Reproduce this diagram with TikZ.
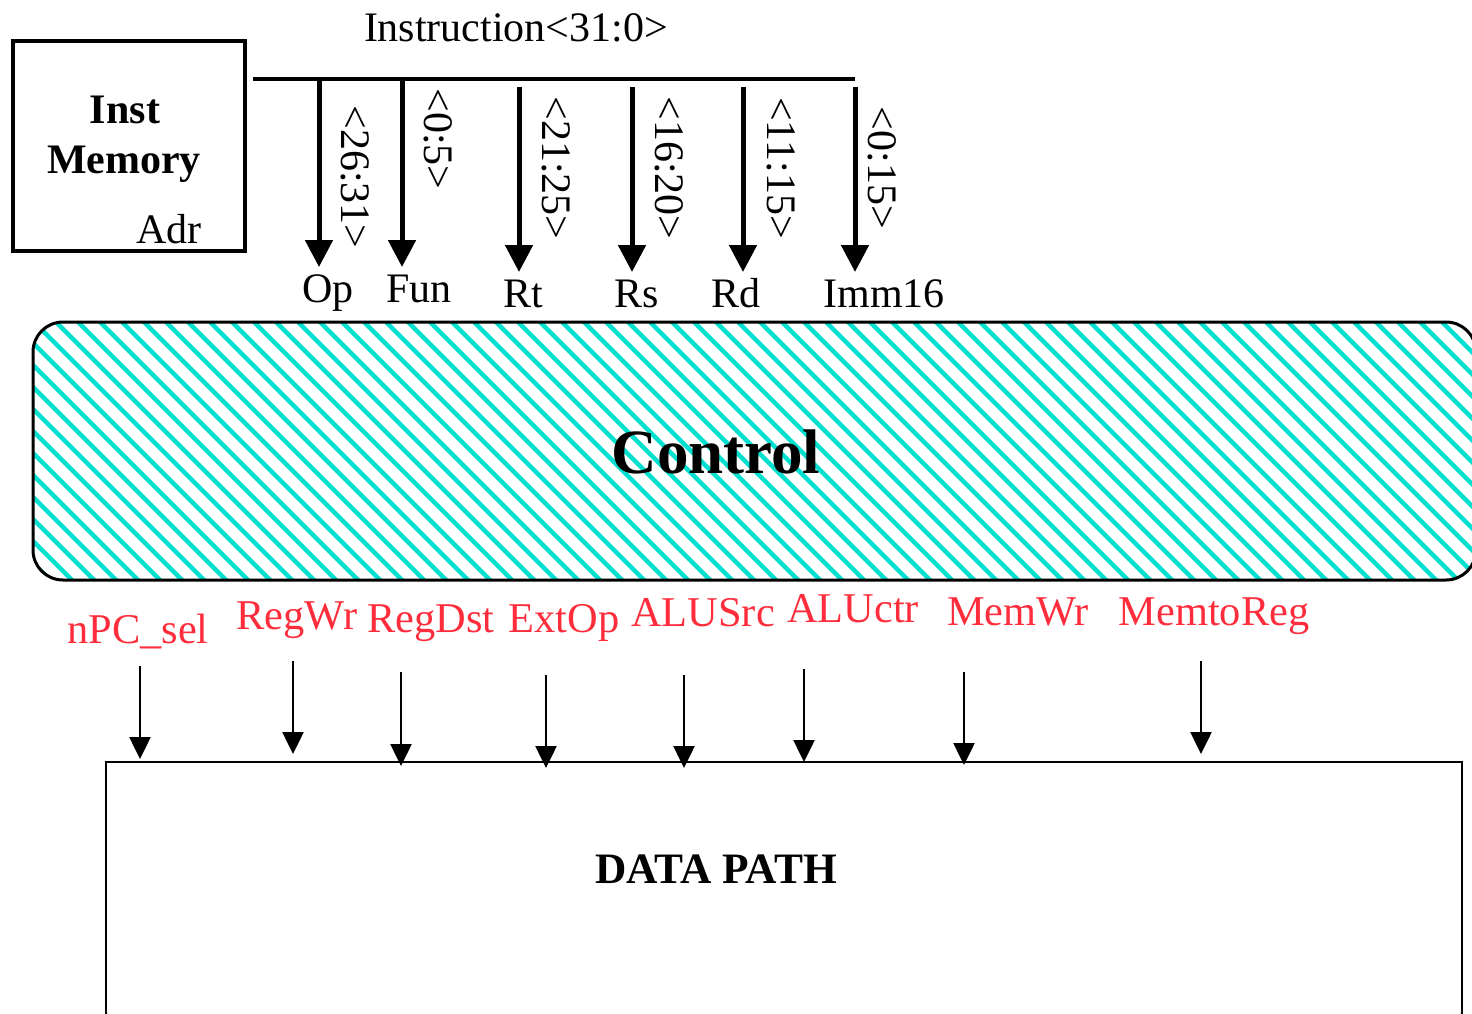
\documentclass[tikz,border=0pt]{standalone}
\usepackage{fontspec}
\setmainfont{Liberation Serif}
\usetikzlibrary{arrows.meta}
\definecolor{stripecol}{RGB}{0,224,208}
\definecolor{sigred}{RGB}{255,45,60}
\begin{document}
\begin{tikzpicture}[x=0.5pt,y=-0.5pt,
  lbl/.style={font=\fontsize{21}{25}\selectfont, inner sep=0pt},
  bold/.style={font=\bfseries\fontsize{21}{25}\selectfont, inner sep=0pt, anchor=base},
  sig/.style={font=\fontsize{21.2}{25}\selectfont, text=sigred, inner sep=0pt, anchor=base},
  busarrow/.style={line width=2.5pt, -{Triangle[width=13.5pt,length=13.5pt]}},
  sigarrow/.style={line width=1.25pt, -{Triangle[width=10.5pt,length=11pt]}},
  stripe/.style={stripecol, line width=2.2pt},
]
\useasboundingbox (0,0) rectangle (1472,1013);
\clip (0,0) rectangle (1472,1013);

% Inst Memory
\draw[line width=2pt] (13,41) rectangle (245,251);
\node[bold] (inst) at (125,123) {Inst};
\node[bold] (mem) at (124,173) {Memory};
\node[lbl, anchor=base] (adr) at (169,243) {Adr};

% bus
\coordinate (busL) at (253,79);
\coordinate (busR) at (855,79);
\draw[line width=2.1pt] (busL) -- (busR);
\node[lbl, anchor=base] (instr) at (516,41) {Instruction<31:0>};

% field arrows
\coordinate (opS) at (319,79);  \coordinate (opE) at (319,267);
\coordinate (funS) at (402,79); \coordinate (funE) at (402,267);
\coordinate (rtS) at (519,87);  \coordinate (rtE) at (519,272);
\coordinate (rsS) at (632,87);  \coordinate (rsE) at (632,272);
\coordinate (rdS) at (743,87);  \coordinate (rdE) at (743,272);
\coordinate (imS) at (855,87);  \coordinate (imE) at (855,272);
\draw[busarrow] (opS) -- (opE);
\draw[busarrow] (funS) -- (funE);
\draw[busarrow] (rtS) -- (rtE);
\draw[busarrow] (rsS) -- (rsE);
\draw[busarrow] (rdS) -- (rdE);
\draw[busarrow] (imS) -- (imE);

\node[lbl, anchor=base] (op) at (328,302) {Op};
\node[lbl, anchor=base] (fun) at (419,302) {Fun};
\node[lbl, anchor=base] (rt) at (523,307) {Rt};
\node[lbl, anchor=base] (rs) at (637,307) {Rs};
\node[lbl, anchor=base] (rd) at (736,307) {Rd};
\node[lbl, anchor=base] (imm) at (884,307) {Imm16};

\node[lbl, rotate=-90] (f1) at (355,177) {<26:31>};
\node[lbl, rotate=-90] (f2) at (438,139) {<0:5>};
\node[lbl, rotate=-90] (f3) at (556,168) {<21:25>};
\node[lbl, rotate=-90] (f4) at (669,168) {<16:20>};
\node[lbl, rotate=-90] (f5) at (781,168) {<11:15>};
\node[lbl, rotate=-90] (f6) at (882,168) {<0:15>};

% Control
\begin{scope}
  \clip[rounded corners=15pt] (33,322) rectangle (1476,580);
  \foreach \i in {0,...,82} {
    \draw[stripe] ({-262+22*\i},312) -- ++(280,280);
  }
\end{scope}
\draw[line width=1.5pt, rounded corners=15pt] (33,322) rectangle (1476,580);
\node[font=\bfseries\fontsize{31.5}{36}\selectfont, inner sep=0pt, anchor=base] (ctl) at (716,473) {Control};

% Data path
\draw[line width=1.25pt] (106,1030) -- (106,762) -- (1462,762) -- (1462,1030);
\node[bold, font=\bfseries\fontsize{21.7}{25}\selectfont] (dp) at (716,883) {DATA PATH};

% control signals
\node[sig] (s1) at (138,643) {nPC\_sel};
\node[sig] (s2) at (297,629) {RegWr};
\node[sig] (s3) at (431,632) {RegDst};
\node[sig] (s4) at (564,632) {ExtOp};
\node[sig] (s5) at (703,626) {ALUSrc};
\node[sig] (s6) at (853,622) {ALUctr};
\node[sig] (s7) at (1018,625) {MemWr};
\node[sig] (s8) at (1214,625) {MemtoReg};

\coordinate (a1S) at (140,666);  \coordinate (a1E) at (140,759);
\coordinate (a2S) at (293,661);  \coordinate (a2E) at (293,754);
\coordinate (a3S) at (401,672);  \coordinate (a3E) at (401,766);
\coordinate (a4S) at (546,675);  \coordinate (a4E) at (546,768);
\coordinate (a5S) at (684,675);  \coordinate (a5E) at (684,768);
\coordinate (a6S) at (804,669);  \coordinate (a6E) at (804,762);
\coordinate (a7S) at (964,672);  \coordinate (a7E) at (964,765);
\coordinate (a8S) at (1201,661); \coordinate (a8E) at (1201,754);
\foreach \k in {1,...,8} {\draw[sigarrow] (a\k S) -- (a\k E);}
\end{tikzpicture}
\end{document}
